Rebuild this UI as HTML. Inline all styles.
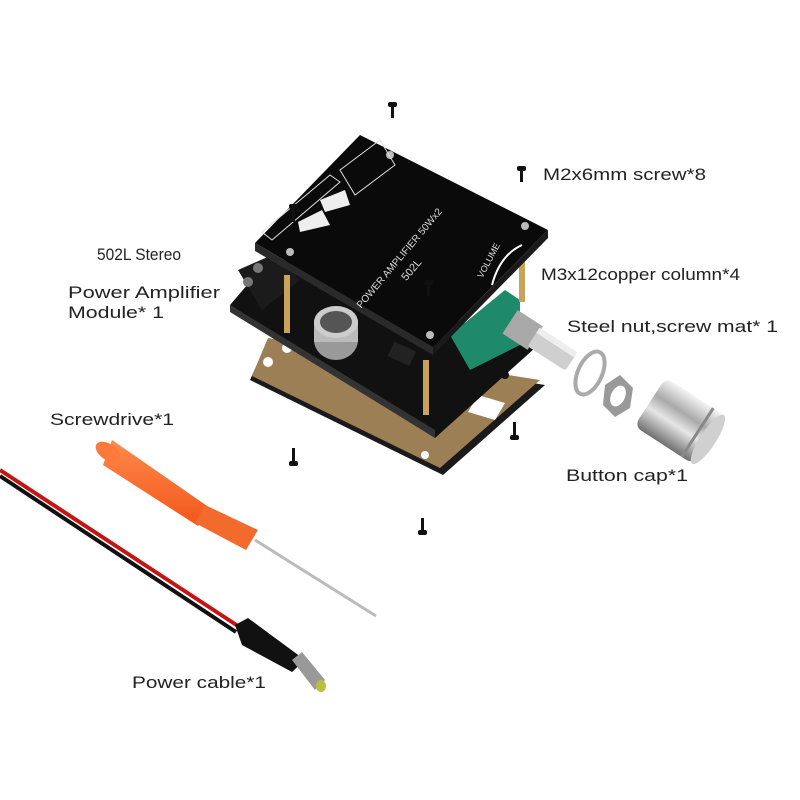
<!DOCTYPE html>
<html><head><meta charset="utf-8"><style>
html,body{margin:0;padding:0;background:#fff;}
svg{display:block;}
text{font-family:"Liberation Sans",sans-serif;fill:#222;}
</style></head><body>
<svg width="800" height="800" viewBox="0 0 800 800" xmlns="http://www.w3.org/2000/svg">
<defs>
<linearGradient id="knob" x1="0" y1="0" x2="0" y2="1">
<stop offset="0" stop-color="#f4f4f4"/><stop offset="0.35" stop-color="#a9a9a9"/><stop offset="0.6" stop-color="#e6e6e6"/><stop offset="1" stop-color="#6f6f6f"/></linearGradient>
<linearGradient id="orng" x1="0" y1="0" x2="0" y2="1"><stop offset="0" stop-color="#ff8a4a"/><stop offset="1" stop-color="#f2561a"/></linearGradient>
</defs>
<!-- acrylic plate -->
<polygon points="250,380 268,340 545,385 443,475" fill="#1a1a1a"/>
<polygon points="252,376 268,338 540,380 440,468" fill="#9c7f55"/>
<circle cx="268" cy="362" r="5" fill="#fff"/><circle cx="287" cy="348" r="5" fill="#fff"/>
<circle cx="290" cy="408" r="4" fill="#fff"/><circle cx="425" cy="455" r="4" fill="#fff"/>
<circle cx="505" cy="375" r="4" fill="#111"/>
<polygon points="478,395 505,403 495,420 468,412" fill="#fff"/>
<!-- lower pcb -->
<polygon points="230,305 272,256 535,348 435,438" fill="#111"/>
<polygon points="230,305 435,430 435,438 230,312" fill="#333"/>
<polygon points="238,270 272,255 300,280 262,310" fill="#1b1b1b"/>
<circle cx="258" cy="268" r="5" fill="#777"/><circle cx="248" cy="282" r="5" fill="#777"/>
<!-- capacitor -->
<ellipse cx="336" cy="340" rx="22" ry="20" fill="#999"/>
<rect x="314" y="320" width="44" height="22" fill="#bbb"/>
<ellipse cx="336" cy="322" rx="22" ry="16" fill="#ccc"/>
<ellipse cx="336" cy="322" rx="16" ry="11" fill="#555"/>
<rect x="390" y="345" width="24" height="16" fill="#222" transform="rotate(25 400 353)"/>
<!-- green pot -->
<polygon points="450,335 505,290 520,300 520,345 470,370" fill="#1f8a6a"/>
<!-- posts -->
<rect x="284" y="275" width="6" height="58" fill="#c7a45a"/>
<rect x="423" y="360" width="6" height="55" fill="#c7a45a"/>
<rect x="519" y="262" width="6" height="40" fill="#c7a45a"/>
<!-- top board -->
<polygon points="255,243 360,135 548,230 433,347" fill="#0a0a0a"/>
<polygon points="255,243 433,347 433,355 255,251" fill="#2a2a2a"/>
<polygon points="433,347 548,230 548,238 433,355" fill="#1a1a1a"/>
<circle cx="390" cy="155" r="4" fill="#bbb"/><circle cx="525" cy="226" r="4" fill="#bbb"/>
<circle cx="290" cy="252" r="4" fill="#bbb"/><circle cx="430" cy="335" r="4" fill="#bbb"/>
<g transform="rotate(-50 400 250)">
<text x="330" y="258" font-size="10" style="fill:#ddd">POWER AMPLIFIER 50Wx2</text>
<text x="380" y="275" font-size="11" style="fill:#ddd">502L</text>
</g>
<g transform="rotate(-62 490 260)"><text x="470" y="262" font-size="9" style="fill:#ddd">VOLUME</text></g>
<path d="M492,285 Q500,255 522,245" stroke="#fff" stroke-width="2" fill="none"/>
<polygon points="340,170 380,140 395,165 355,195" fill="none" stroke="#ddd" stroke-width="1"/>
<polygon points="262,232 330,175 340,182 272,240" fill="none" stroke="#ddd" stroke-width="1"/>
<polygon points="298,222 322,210 330,225 300,232" fill="#eee"/>
<polygon points="320,200 345,190 350,205 325,212" fill="#eee"/>
<!-- shaft -->
<g transform="rotate(33 540 340)">
<rect x="505" y="327" width="30" height="28" fill="#a8a8a8"/>
<rect x="533" y="330" width="45" height="22" rx="3" fill="#cfcfcf"/>
<rect x="533" y="330" width="45" height="6" fill="#eee"/>
</g>
<!-- washer / nut -->
<ellipse cx="590" cy="373" rx="12" ry="23" fill="none" stroke="#aaa" stroke-width="4" transform="rotate(25 590 373)"/>
<polygon points="605,385 620,375 633,388 630,408 615,417 603,405" fill="#999"/>
<ellipse cx="618" cy="396" rx="7" ry="11" fill="#fff" transform="rotate(25 618 396)"/>
<!-- knob -->
<g transform="rotate(33 680 420)">
<rect x="645" y="392" width="70" height="58" rx="8" fill="url(#knob)"/>
<ellipse cx="714" cy="421" rx="8" ry="29" fill="#d0d0d0"/>
<rect x="700" y="392" width="3" height="58" fill="#888"/>
</g>
<!-- screws -->
<g fill="#111">
<rect x="391" y="104" width="3" height="14"/><rect x="388" y="102" width="9" height="5" rx="2"/>
<rect x="520" y="168" width="3" height="14"/><rect x="517" y="166" width="9" height="5" rx="2"/>
<rect x="292" y="208" width="3" height="14"/><rect x="289" y="204" width="9" height="5" rx="2"/>
<rect x="427" y="282" width="3" height="14"/><rect x="424" y="280" width="9" height="5" rx="2"/>
<rect x="292" y="448" width="3" height="14"/><rect x="289" y="461" width="9" height="5" rx="2"/>
<rect x="513" y="422" width="3" height="14"/><rect x="510" y="435" width="9" height="5" rx="2"/>
<rect x="421" y="518" width="3" height="14"/><rect x="418" y="530" width="9" height="5" rx="2"/>
</g>
<!-- cable -->
<path d="M0,470 L238,626" stroke="#c41414" stroke-width="4" fill="none"/>
<path d="M0,476 L236,632" stroke="#111" stroke-width="4" fill="none"/>
<polygon points="235,625 248,618 305,660 292,672 242,645" fill="#111"/>
<polygon points="292,660 302,652 325,680 315,690" fill="#999"/>
<ellipse cx="321" cy="686" rx="5" ry="6" fill="#b8c13a"/>
<!-- screwdriver -->
<line x1="255" y1="540" x2="376" y2="616" stroke="#bbb" stroke-width="3"/>
<polygon points="112,440 210,508 198,526 103,465" fill="url(#orng)"/>
<polygon points="205,505 258,530 246,550 195,523" fill="#f26a2c"/>
<ellipse cx="108" cy="452" rx="8" ry="14" fill="#ff7a3a" transform="rotate(-55 108 452)"/>
<!-- labels -->
<g font-size="17">
<text x="543" y="180" textLength="163" lengthAdjust="spacingAndGlyphs">M2x6mm screw*8</text>
<text x="97" y="260" textLength="84" lengthAdjust="spacingAndGlyphs">502L Stereo</text>
<text x="68" y="298" textLength="152" lengthAdjust="spacingAndGlyphs">Power Amplifier</text>
<text x="68" y="318" textLength="96" lengthAdjust="spacingAndGlyphs">Module* 1</text>
<text x="541" y="280" textLength="199" lengthAdjust="spacingAndGlyphs">M3x12copper column*4</text>
<text x="567" y="332" textLength="211" lengthAdjust="spacingAndGlyphs">Steel nut,screw mat* 1</text>
<text x="50" y="425" textLength="124" lengthAdjust="spacingAndGlyphs">Screwdrive*1</text>
<text x="566" y="481" textLength="122" lengthAdjust="spacingAndGlyphs">Button cap*1</text>
<text x="132" y="688" textLength="134" lengthAdjust="spacingAndGlyphs">Power cable*1</text>
</g>
</svg>
</body></html>
